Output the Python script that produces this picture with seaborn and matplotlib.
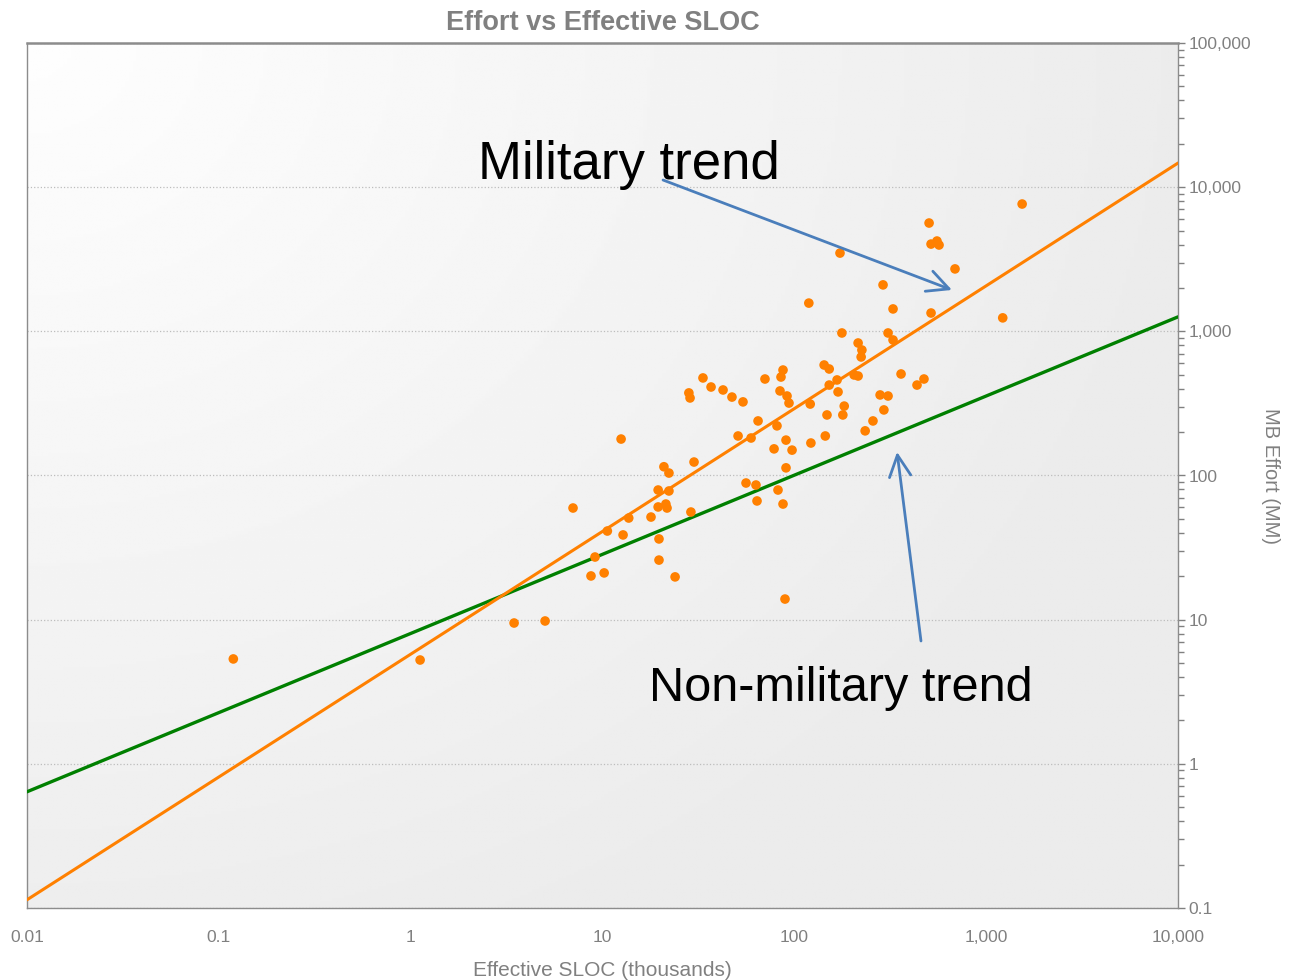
import numpy as np
import pandas as pd
import matplotlib
matplotlib.use("Agg")
import matplotlib.pyplot as plt
from matplotlib.ticker import FixedLocator, FuncFormatter, LogLocator, NullFormatter
import seaborn as sns

# Effective SLOC (thousands) and MB effort (MM) for each project
sloc = [0.119, 1.12, 3.46, 5.02, 7.02, 8.71, 10.2, 9.14, 10.6, 12.5,
        12.8, 13.7, 17.9, 19.5, 19.5, 19.7, 19.7, 20.9, 22.2, 21.4,
        21.7, 22.2, 23.9, 28.9, 30, 28.2, 28.6, 33.4, 36.8, 42.5,
        47.3, 54, 50.9, 56, 59.5, 63.1, 63.9, 64.7, 70.3, 78.4,
        81.2, 82.2, 84.2, 85.2, 87.3, 87.3, 89.4, 90.5, 91.6, 90.5,
        93.8, 97.3, 119, 121, 122, 145, 143, 152, 152, 167,
        169, 148, 173, 177, 179, 182, 205, 215, 215, 225,
        223, 234, 257, 280, 293, 308, 290, 308, 327, 327,
        360, 436, 474, 504, 516, 554, 568, 516, 688, 1220, 1540]
effort = [5.34, 5.25, 9.48, 9.79, 59.5, 20.1, 21.1, 27.2, 41.2, 179,
          38.7, 50.7, 51.5, 79.3, 60.5, 36.3, 25.9, 115, 104, 63.4,
          59.5, 78.1, 19.8, 55.8, 124, 374, 345, 475, 411, 392,
          350, 324, 188, 88.7, 182, 85.9, 66.6, 239, 467, 153,
          221, 79.3, 386, 482, 539, 63.4, 13.9, 176, 356, 113,
          318, 150, 1570, 313, 168, 188, 584, 548, 424, 460,
          380, 263, 3490, 974, 263, 303, 498, 490, 830, 742,
          664, 204, 239, 362, 285, 356, 2100, 974, 871, 1430,
          506, 424, 467, 5640, 4030, 4230, 3970, 1340, 2710, 1240, 7640]

# trend lines, read at the ends of the x range
trend_x = [0.01, 10000]
military_y = [0.114, 14700]
nonmilitary_y = [0.64, 1260]

x_ticks = [0.01, 0.1, 1, 10, 100, 1000, 10000]
y_ticks = [0.1, 1, 10, 100, 1000, 10000, 100000]

df = pd.DataFrame({"sloc": sloc, "effort": effort})

sns.set_theme(style="white")
plt.rcParams["font.family"] = ["Liberation Sans", "DejaVu Sans"]

gray = "#808080"
fig = plt.figure(figsize=(12.89, 9.8), dpi=100)
rect = [27 / 1289, 1 - 908 / 980, 1151 / 1289, 865 / 980]

# gradient background behind the plot area
bg = fig.add_axes(rect, zorder=0)
gx, gy = np.meshgrid(np.linspace(0, 1, 300), np.linspace(0, 1, 300))
shade = 0.995 - 0.07 * np.clip(np.sqrt(gx ** 2 + (0.9 * gy) ** 2), 0, 1)
bg.imshow(shade, cmap="gray", vmin=0, vmax=1, aspect="auto", extent=[0, 1, 0, 1], origin="upper")
bg.set_axis_off()

ax = fig.add_axes(rect, zorder=1)
ax.patch.set_alpha(0)

sns.lineplot(x=trend_x, y=nonmilitary_y, color="#008000", linewidth=2.4, ax=ax, zorder=3)
sns.lineplot(x=trend_x, y=military_y, color="#ff8000", linewidth=2.2, ax=ax, zorder=3)
sns.scatterplot(data=df, x="sloc", y="effort", color="#ff8000", s=48, edgecolor="none",
                ax=ax, zorder=4, legend=False)

ax.set_xscale("log")
ax.set_yscale("log")
ax.set_xlim(x_ticks[0], x_ticks[-1])
ax.set_ylim(y_ticks[0], y_ticks[-1])

fmt = FuncFormatter(lambda v, p: f"{v:,.0f}" if v >= 1 else f"{v:g}")
ax.xaxis.set_major_locator(FixedLocator(x_ticks))
ax.yaxis.set_major_locator(FixedLocator(y_ticks))
ax.xaxis.set_major_formatter(fmt)
ax.yaxis.set_major_formatter(fmt)
for axis in (ax.xaxis, ax.yaxis):
    axis.set_minor_locator(LogLocator(base=10, subs=np.arange(2, 10), numticks=20))
    axis.set_minor_formatter(NullFormatter())

ax.yaxis.tick_right()
ax.yaxis.set_label_position("right")
ax.tick_params(which="both", direction="out", color=gray, labelcolor=gray, width=1, labelsize=12.5)
ax.tick_params(axis="x", which="major", length=8.5, pad=7.5)
ax.tick_params(axis="x", which="minor", length=3.6)
ax.tick_params(axis="y", which="major", length=5, pad=2.5)
ax.tick_params(axis="y", which="minor", length=4)

ax.yaxis.grid(True, which="major", color="#bdbdbd", linestyle=":", linewidth=0.9)
ax.xaxis.grid(False)
for name, sp in ax.spines.items():
    sp.set_visible(True)
    sp.set_color("#8c8c8c")
    sp.set_linewidth(1.0)
ax.spines["top"].set_linewidth(1.8)

ax.set_title("Effort vs Effective SLOC", fontsize=19.5, fontweight="bold", color=gray, pad=9)
ax.set_xlabel("Effective SLOC (thousands)", fontsize=15, color=gray, labelpad=11)
ax.set_ylabel("MB Effort (MM)", fontsize=14.5, color=gray, rotation=270, labelpad=21)

arrow = dict(arrowstyle="->,head_length=0.7,head_width=0.35", color="#4a7ebb", lw=2,
             mutation_scale=22, shrinkA=0, shrinkB=0)
ax.annotate("", xy=(0.8036, 0.7145), xytext=(0.5526, 0.8416), xycoords="axes fraction",
            arrowprops=arrow, zorder=5)
ax.annotate("", xy=(0.7559, 0.5272), xytext=(0.7767, 0.3087), xycoords="axes fraction",
            arrowprops=arrow, zorder=5)
ax.text(0.523, 0.859, "Military trend", transform=ax.transAxes, ha="center", va="center",
        fontsize=38, color="black", zorder=6)
ax.text(0.7072, 0.254, "Non-military trend", transform=ax.transAxes, ha="center", va="center",
        fontsize=35, color="black", zorder=6)

fig.savefig("out.png", dpi=100)
